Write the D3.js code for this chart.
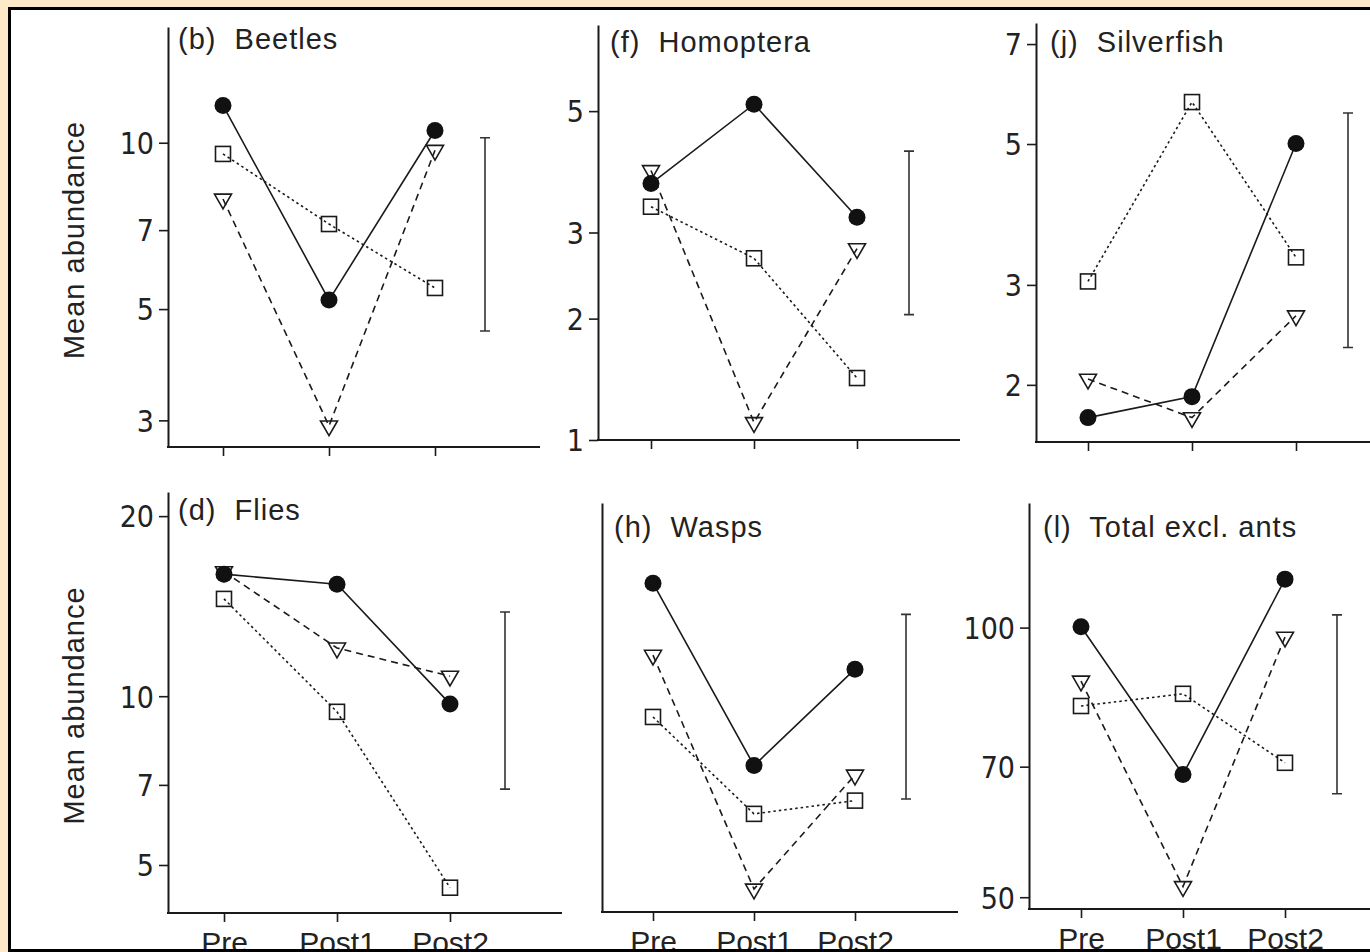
<!DOCTYPE html>
<html>
<head>
<meta charset="utf-8">
<script src="https://cdn.jsdelivr.net/npm/d3@7"></script>
<style>
  body { margin: 0; background: #fde8c8; }
  svg { display: block; }
  .tick text { font-family: "Liberation Sans Narrow", "DejaVu Sans Condensed", sans-serif; font-size: 30px; fill: #222; }
  .xaxis .tick text { font-family: "Liberation Sans", Arial, sans-serif; font-size: 30px; }
  .title { font-family: "Liberation Sans", Arial, sans-serif; font-size: 29px; letter-spacing: 1px; fill: #222; white-space: pre; }
  .ylab { font-family: "Liberation Sans", Arial, sans-serif; font-size: 29px; letter-spacing: 1px; fill: #222; }
</style>
</head>
<body>
<svg id="chart"></svg>
<script>
const width = 1370;
const height = 952;
const svg = d3.select("#chart").attr("width", width).attr("height", height);

// Data (mean abundance; y axes are log(x+1))
const categories = ["Pre", "Post1", "Post2"];

const beetlesCircle = [11.6, 5.2, 10.5];
const beetlesSquare = [9.56, 7.18, 5.48];
const beetlesTriangle = [7.96, 2.92, 9.7];
const beetlesError = [4.54, 10.2];
const beetlesTicks = [3, 5, 7, 10];

const homopteraCircle = [3.71, 5.14, 3.21];
const homopteraSquare = [3.36, 2.67, 1.46];
const homopteraTriangle = [3.92, 1.12, 2.79];
const homopteraError = [2.04, 4.25];
const homopteraTicks = [1, 2, 3, 5];

const silverfishCircle = [1.73, 1.9, 5.01];
const silverfishSquare = [3.04, 5.77, 3.33];
const silverfishTriangle = [2.05, 1.73, 2.66];
const silverfishError = [2.34, 5.56];
const silverfishTicks = [2, 3, 5, 7];

const fliesCircle = [16.05, 15.44, 9.7];
const fliesSquare = [14.6, 9.4, 4.53];
const fliesTriangle = [16.2, 12.08, 10.82];
const fliesError = [6.88, 13.88];
const fliesTicks = [5, 7, 10, 20];

const waspsCircle = [2.78, 1.0, 1.8];
const waspsSquare = [1.37, 0.69, 0.77];
const waspsTriangle = [1.94, 0.3, 0.935];
const waspsError = [0.78, 2.39];
const waspsTicks = [];

const totalCircle = [100.2, 68.6, 113.2];
const totalSquare = [81.8, 84.4, 70.7];
const totalTriangle = [87.2, 51.4, 97.6];
const totalError = [65.3, 103.3];
const totalTicks = [50, 70, 100];

const panels = [
  { title: "(b)  Beetles", circle: beetlesCircle, square: beetlesSquare, triangle: beetlesTriangle, err: beetlesError, ticks: beetlesTicks,
    domain: [2.63, 15.77], left: 168, right: 540, top: 27, bottom: 447, xr: [223, 435], errX: 485, tx: 178, ty: 49, ylab: true, xlab: false },
  { title: "(f)  Homoptera", circle: homopteraCircle, square: homopteraSquare, triangle: homopteraTriangle, err: homopteraError, ticks: homopteraTicks,
    domain: [1, 7], left: 598, right: 960, top: 25, bottom: 440, xr: [651, 857], errX: 909, tx: 610, ty: 52, ylab: false, xlab: false },
  { title: "(j)  Silverfish", circle: silverfishCircle, square: silverfishSquare, triangle: silverfishTriangle, err: silverfishError, ticks: silverfishTicks,
    domain: [1.545, 7.5], left: 1036, right: 1372, top: 23, bottom: 442, xr: [1088, 1296], errX: 1348, tx: 1050, ty: 52, ylab: false, xlab: false },
  { title: "(d)  Flies", circle: fliesCircle, square: fliesSquare, triangle: fliesTriangle, err: fliesError, ticks: fliesTicks,
    domain: [4.05, 21.9], left: 168, right: 562, top: 492, bottom: 913, xr: [224, 450], errX: 505, tx: 178, ty: 520, ylab: true, xlab: true },
  { title: "(h)  Wasps", circle: waspsCircle, square: waspsSquare, triangle: waspsTriangle, err: waspsError, ticks: waspsTicks,
    domain: [0.2, 4], left: 602, right: 958, top: 503, bottom: 912, xr: [653, 855], errX: 906, tx: 614, ty: 537, ylab: false, xlab: true },
  { title: "(l)  Total excl. ants", circle: totalCircle, square: totalSquare, triangle: totalTriangle, err: totalError, ticks: totalTicks,
    domain: [48.5, 137.5], left: 1029, right: 1372, top: 503, bottom: 909, xr: [1081, 1285], errX: 1337, tx: 1043, ty: 537, ylab: false, xlab: true }
];

// background panel with border
svg.append("rect").attr("x", 9.5).attr("y", 8.5).attr("width", width).attr("height", 942)
  .attr("fill", "white");

const ink = "#1a1a1a";

panels.forEach((p) => {
  const g = svg.append("g");
  const x = d3.scalePoint().domain(categories).range(p.xr);
  const y = d3.scaleLog().domain([p.domain[0] + 1, p.domain[1] + 1]).range([p.bottom, p.top]);
  const yv = (v) => y(v + 1);

  // y-axis
  const yAxis = d3.axisLeft(y)
    .tickValues(p.ticks.map((t) => t + 1))
    .tickFormat((d) => Math.round(d - 1))
    .tickSize(9).tickSizeOuter(0).tickPadding(5);
  const yAxisG = g.append("g").attr("transform", `translate(${p.left},0)`).call(yAxis);
  yAxisG.select(".domain").attr("stroke", ink).attr("stroke-width", 2);
  yAxisG.selectAll(".tick line").attr("stroke", ink).attr("stroke-width", 1.6);
  yAxisG.selectAll(".tick text").attr("dy", "0.36em");

  // x-axis
  g.append("line")
    .attr("x1", p.left - 1).attr("x2", p.right)
    .attr("y1", p.bottom).attr("y2", p.bottom)
    .attr("stroke", ink).attr("stroke-width", 2);
  const xAxis = d3.axisBottom(x).tickSize(9).tickSizeOuter(0).tickPadding(10)
    .tickFormat((d) => (p.xlab ? d : ""));
  const xAxisG = g.append("g").attr("class", "xaxis").attr("transform", `translate(0,${p.bottom})`).call(xAxis);
  xAxisG.select(".domain").remove();
  xAxisG.selectAll(".tick line").attr("stroke", ink).attr("stroke-width", 1.6);

  // lines
  const line = d3.line().x((d, i) => x(categories[i])).y((d) => yv(d));
  g.append("path").attr("d", line(p.square)).attr("fill", "none")
    .attr("stroke", ink).attr("stroke-width", 1.6).attr("stroke-dasharray", "2.5,3");
  g.append("path").attr("d", line(p.triangle)).attr("fill", "none")
    .attr("stroke", ink).attr("stroke-width", 1.6).attr("stroke-dasharray", "7,5");
  g.append("path").attr("d", line(p.circle)).attr("fill", "none")
    .attr("stroke", ink).attr("stroke-width", 1.6);

  // markers
  g.selectAll(".sq").data(p.square).join("rect")
    .attr("x", (d, i) => x(categories[i]) - 7.5).attr("y", (d) => yv(d) - 7.5)
    .attr("width", 15).attr("height", 15)
    .attr("fill", "none").attr("stroke", ink).attr("stroke-width", 1.6);
  g.selectAll(".tri").data(p.triangle).join("path")
    .attr("d", d3.symbol(d3.symbolTriangle, 125))
    .attr("transform", (d, i) => `translate(${x(categories[i])},${yv(d)}) rotate(180)`)
    .attr("fill", "none").attr("stroke", ink).attr("stroke-width", 1.6);
  g.selectAll(".dot").data(p.circle).join("circle")
    .attr("cx", (d, i) => x(categories[i])).attr("cy", (d) => yv(d))
    .attr("r", 8.5).attr("fill", "#111");

  // error bar
  const e0 = yv(p.err[0]), e1 = yv(p.err[1]);
  g.append("path")
    .attr("d", `M${p.errX},${e0}V${e1}M${p.errX - 5},${e0}H${p.errX + 5}M${p.errX - 5},${e1}H${p.errX + 5}`)
    .attr("stroke", "#333").attr("stroke-width", 1.6).attr("fill", "none");

  // title
  g.append("text").attr("class", "title").attr("x", p.tx).attr("y", p.ty).text(p.title);

  // y label
  if (p.ylab) {
    g.append("text").attr("class", "ylab")
      .attr("transform", `translate(84,${(p.top + p.bottom) / 2 + 3}) rotate(-90)`)
      .attr("text-anchor", "middle")
      .text("Mean abundance");
  }
});

// outer border
svg.append("rect").attr("x", 9.5).attr("y", 8.5).attr("width", width).attr("height", 942)
  .attr("fill", "none").attr("stroke", "black").attr("stroke-width", 3);
</script>
</body>
</html>
